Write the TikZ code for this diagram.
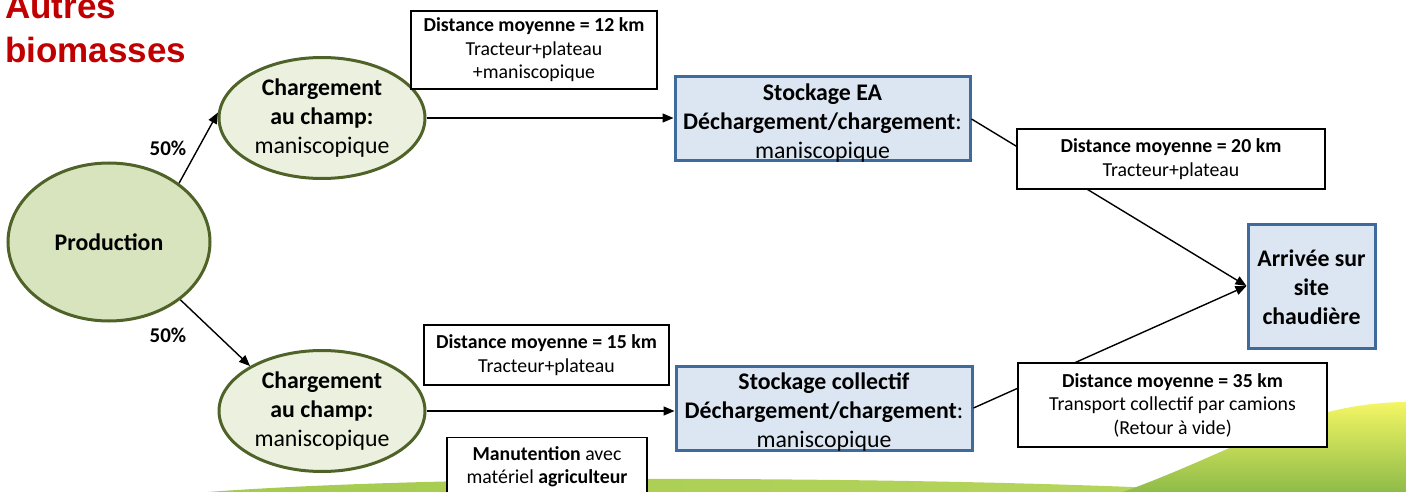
\documentclass[tikz,border=0pt]{standalone}
\usepackage{fontspec}
\setmainfont{Carlito}
\newfontfamily\titlefont{Liberation Sans}
\usetikzlibrary{shapes.geometric,arrows.meta}
\definecolor{prodfill}{HTML}{D7E4BD}
\definecolor{chfill}{HTML}{EBF1DE}
\definecolor{olivedraw}{HTML}{4F6228}
\definecolor{stfill}{HTML}{DCE6F2}
\definecolor{stdraw}{HTML}{3E6A9C}
\definecolor{titlered}{HTML}{C00000}
\definecolor{wavegreen}{HTML}{A4CA50}
\definecolor{wavelight}{HTML}{B8D65E}
\definecolor{hilltop}{HTML}{F4F664}
\definecolor{hillbot}{HTML}{8DBB48}
\tikzset{
  bigtext/.style={font=\fontsize{23.8}{29}\selectfont},
  smalltext/.style={font=\fontsize{19.8}{23.5}\selectfont},
  ellnode/.style={ellipse, draw=olivedraw, line width=3pt, inner sep=0pt, align=center, bigtext},
  stbox/.style={rectangle, draw=stdraw, line width=3pt, fill=stfill, inner sep=0pt},
  sttext/.style={align=center, bigtext, inner sep=0pt},
  lbox/.style={rectangle, draw=black, line width=1.3pt, fill=white, inner sep=0pt, align=center, smalltext},
  arrowline/.style={line width=1.4pt, -{Triangle[length=11pt,width=9pt]}},
  pct/.style={font=\fontsize{21}{24}\selectfont\bfseries, inner sep=0pt},
  titletext/.style={font=\titlefont\bfseries\fontsize{35}{40}\selectfont, text=titlered, inner sep=0pt, anchor=base west},
}
\begin{document}
\begin{tikzpicture}[x=1pt,y=-1pt]
\useasboundingbox (0,0) rectangle (1406,492);
\clip (0,0) rectangle (1406,492);
% bottom decoration
\shade[left color=wavegreen, right color=wavelight] (195,493) .. controls (320,483) and (520,478) .. (720,479) .. controls (920,480) and (1100,484) .. (1260,493) -- cycle;
\shade[top color=hilltop, bottom color=hillbot] (1120,493) .. controls (1235,452) and (1300,403) .. (1406,402) -- (1406,493) -- cycle;
% title
\node[titletext] (title1) at (5,19) {Autres};
\node[titletext] (title2) at (5,63) {biomasses};
% main nodes
\node[ellnode, fill=prodfill, minimum width=202pt, minimum height=158pt] (prod) at (109,242) {\textbf{Production}};
\node[ellnode, fill=chfill, minimum width=206pt, minimum height=121pt] (ch1) at (322,118) {\textbf{Chargement}\\\textbf{au champ:}\\maniscopique};
\node[ellnode, fill=chfill, minimum width=206pt, minimum height=121pt] (ch2) at (322,411) {\textbf{Chargement}\\\textbf{au champ:}\\maniscopique};
\node[stbox, minimum width=295pt, minimum height=84pt] (st1) at (822.5,119) {};
\node[sttext] (st1t) at (822.5,123) {\textbf{Stockage EA}\\\textbf{Déchargement/chargement}:\\maniscopique};
\node[stbox, minimum width=296pt, minimum height=84pt] (st2) at (824,408) {};
\node[sttext] (st2t) at (824,412) {\textbf{Stockage collectif}\\\textbf{Déchargement/chargement}:\\maniscopique};
\node[stbox, minimum width=127pt, minimum height=124pt] (site) at (1311.5,286) {};
\node[sttext] (sitet) at (1311.5,287) {\textbf{Arrivée sur}\\\textbf{site}\\\textbf{chaudière}};
% percentages
\node[pct] (p1) at (168,148) {50\%};
\node[pct] (p2) at (168,335) {50\%};
% connectors
\draw[arrowline] (prod.40) -- (ch1.177);
\draw[arrowline] (prod.-39) -- (ch2.148);
\draw[arrowline] (ch1.east) -- (ch1.east -| st1.west);
\draw[arrowline] (ch2.east) -- (ch2.east -| st2.west);
\draw[arrowline] (st1.east) -- (site.west);
\draw[arrowline] (st2.east) -- (site.west);
% label boxes
\node[lbox, minimum width=246pt, minimum height=78pt] (d12) at (534,50) {\textbf{Distance moyenne = 12 km}\\Tracteur+plateau\\+maniscopique};
\node[lbox, minimum width=308pt, minimum height=60pt] (d20) at (1171,159) {\textbf{Distance moyenne = 20 km}\\Tracteur+plateau};
\node[lbox, minimum width=245pt, minimum height=60pt] (d15) at (546.5,355) {\textbf{Distance moyenne = 15 km}\\Tracteur+plateau};
\node[lbox, minimum width=309pt, minimum height=84pt] (d35) at (1172.5,405) {\textbf{Distance moyenne = 35 km}\\Transport collectif par camions\\(Retour à vide)};
\node[lbox, anchor=north, minimum width=200pt, minimum height=58pt] (manut) at (547,437) {\textbf{Manutention} avec\\matériel \textbf{agriculteur}};
\end{tikzpicture}
\end{document}
